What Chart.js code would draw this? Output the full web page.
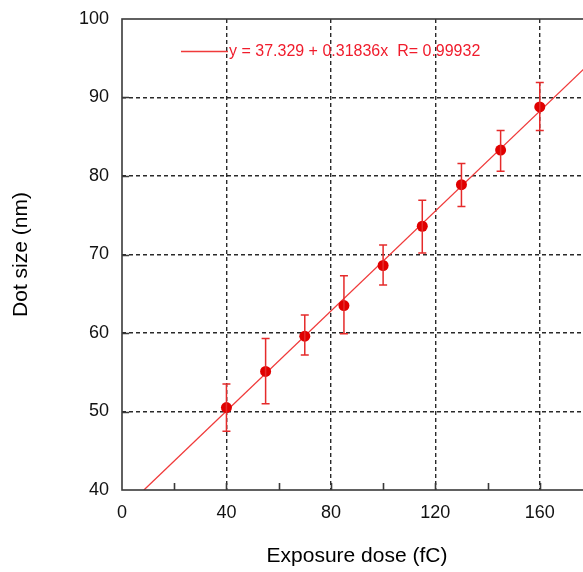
<!DOCTYPE html>
<html>
<head>
<meta charset="utf-8">
<script src="https://cdn.jsdelivr.net/npm/chart.js@4.4.1/dist/chart.umd.min.js"></script>
<style>
  html, body { margin: 0; padding: 0; background: #fff; overflow: hidden; }
  #wrap { position: relative; width: 600px; height: 572px; }
</style>
</head>
<body>
<div id="wrap"><canvas id="chart"></canvas></div>
<script>
// Measured dot sizes versus exposure dose
const doses     = [40, 55, 70, 85, 100, 115, 130, 145, 160];
const dotSizes  = [50.5, 55.1, 59.6, 63.5, 68.6, 73.6, 78.9, 83.3, 88.8];
const errUpper  = [53.5, 59.3, 62.3, 67.3, 71.2, 76.9, 81.6, 85.8, 91.9];
const errLower  = [47.5, 51.0, 57.2, 59.9, 66.1, 70.2, 76.1, 80.6, 85.8];

// Linear fit, as stated in the legend
const fitIntercept = 37.329;
const fitSlope = 0.31836;
const fitR = 0.99932;
const fitLabel = 'y = ' + fitIntercept + ' + ' + fitSlope + 'x  R= ' + fitR;

const xMin = 0, xMax = 180, xStep = 20, xLabelStep = 40;
const yMin = 40, yMax = 100, yStep = 10;

const fontFamily = '"Liberation Sans", Arial, Helvetica, sans-serif';
const red = '#e00000';

const fitStart = (yMin - fitIntercept) / fitSlope;
const fitPoints = [
  { x: fitStart, y: fitIntercept + fitSlope * fitStart },
  { x: xMax, y: fitIntercept + fitSlope * xMax }
];

// Error bars, drawn through the chart scales
const errorBars = {
  id: 'errorBars',
  afterDatasetsDraw(chart) {
    const { ctx, scales: { x, y } } = chart;
    ctx.save();
    ctx.strokeStyle = '#e52b2b';
    ctx.lineWidth = 1.5;
    doses.forEach((d, i) => {
      const px = x.getPixelForValue(d);
      const top = y.getPixelForValue(errUpper[i]);
      const bot = y.getPixelForValue(errLower[i]);
      ctx.beginPath();
      ctx.moveTo(px, top); ctx.lineTo(px, bot);
      ctx.moveTo(px - 4, top); ctx.lineTo(px + 4, top);
      ctx.moveTo(px - 4, bot); ctx.lineTo(px + 4, bot);
      ctx.stroke();
    });
    ctx.restore();
  }
};

// Plot frame, inward tick marks and the fit legend
const frameAndLegend = {
  id: 'frameAndLegend',
  afterDraw(chart) {
    const { ctx, chartArea: a, scales: { x, y } } = chart;
    ctx.save();
    ctx.strokeStyle = '#3a3a3a';
    ctx.lineWidth = 1.6;
    ctx.strokeRect(a.left, a.top, a.right - a.left, a.bottom - a.top);
    ctx.beginPath();
    for (let v = xMin + xStep; v < xMax; v += xStep) {
      const px = Math.round(x.getPixelForValue(v)) + 0.5;
      ctx.moveTo(px, a.bottom); ctx.lineTo(px, a.bottom - 7);
    }
    for (let v = yMin + yStep; v < yMax; v += yStep) {
      const py = Math.round(y.getPixelForValue(v)) + 0.5;
      ctx.moveTo(a.left, py); ctx.lineTo(a.left + 7, py);
    }
    ctx.stroke();

    // legend
    const ly = 51;
    ctx.strokeStyle = '#f03a3a';
    ctx.lineWidth = 1.5;
    ctx.beginPath();
    ctx.moveTo(181, ly + 0.5); ctx.lineTo(228, ly + 0.5);
    ctx.stroke();
    ctx.fillStyle = '#f01c2c';
    ctx.font = '16px ' + fontFamily;
    ctx.textBaseline = 'middle';
    ctx.textAlign = 'left';
    ctx.fillText(fitLabel, 229, ly + 1);
    ctx.restore();
  }
};

const edgeTransparent = (min, max) => (c) =>
  (c.tick && (c.tick.value === min || c.tick.value === max)) ? 'rgba(0,0,0,0)' : '#2a2a2a';

new Chart(document.getElementById('chart'), {
  type: 'scatter',
  data: {
    datasets: [
      {
        type: 'line',
        label: fitLabel,
        data: fitPoints,
        borderColor: '#f03a3a',
        borderWidth: 1.3,
        pointRadius: 0,
        fill: false,
        order: 2
      },
      {
        label: 'Dot size',
        data: doses.map((d, i) => ({ x: d, y: dotSizes[i] })),
        backgroundColor: red,
        borderColor: red,
        borderWidth: 0,
        pointRadius: 5.5,
        pointHoverRadius: 5.5,
        order: 1
      }
    ]
  },
  options: {
    responsive: true,
    maintainAspectRatio: false,
    animation: false,
    devicePixelRatio: 1,
    layout: { padding: { top: 19, right: 8, left: 0, bottom: 0 } },
    plugins: {
      legend: { display: false },
      tooltip: { enabled: false }
    },
    scales: {
      x: {
        type: 'linear',
        min: xMin, max: xMax,
        afterFit(scale) {
          scale.height = 82;
          scale.paddingLeft = 0; scale.paddingRight = 0;
        },
        ticks: {
          stepSize: xStep,
          autoSkip: false,
          maxRotation: 0,
          padding: 12,
          color: '#111',
          font: { family: fontFamily, size: 18 },
          callback: (v) => (v % xLabelStep === 0 && v < xMax) ? String(v) : null
        },
        grid: { color: edgeTransparent(xMin, xMax), lineWidth: 1.4, drawTicks: false },
        border: { display: false, dash: [4, 3] },
        title: {
          display: true,
          text: 'Exposure dose (fC)',
          color: '#000',
          font: { family: fontFamily, size: 21, lineHeight: 1.2 },
          padding: { top: 0, bottom: 3 }
        }
      },
      y: {
        type: 'linear',
        min: yMin, max: yMax,
        afterFit(scale) {
          scale.width = 122;
          scale.paddingTop = 0; scale.paddingBottom = 0;
        },
        ticks: {
          stepSize: yStep,
          padding: 13,
          color: '#111',
          font: { family: fontFamily, size: 18 }
        },
        grid: { color: edgeTransparent(yMin, yMax), lineWidth: 1.4, drawTicks: false },
        border: { display: false, dash: [4, 3] },
        title: {
          display: true,
          text: 'Dot size (nm)',
          color: '#000',
          font: { family: fontFamily, size: 21, lineHeight: 1.2 },
          padding: { top: 9, bottom: 0 }
        }
      }
    }
  },
  plugins: [errorBars, frameAndLegend]
});
</script>
</body>
</html>
